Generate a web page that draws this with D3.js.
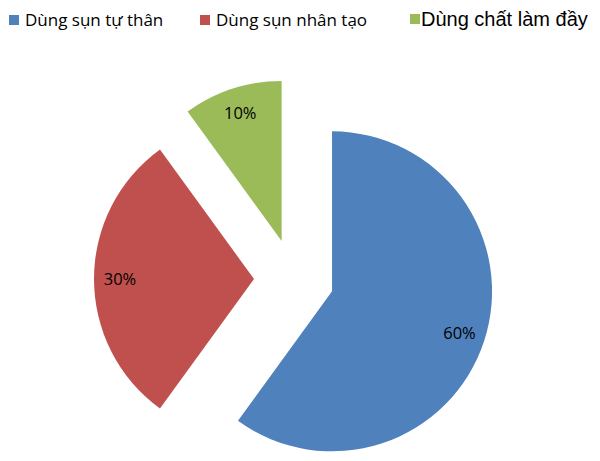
<!DOCTYPE html>
<html>
<head>
<meta charset="utf-8">
<script src="https://cdn.jsdelivr.net/npm/d3@7"></script>
<style>
  body { margin: 0; background: #fff; }
  svg { display: block; }
</style>
</head>
<body>
<div id="chart-area"></div>
<script>
// Exploded pie of filling methods
var labels = ["Dùng sụn tự thân", "Dùng sụn nhân tạo", "Dùng chất làm đầy"];
var values = [60, 30, 10];
var colors = ["#4F81BD", "#C0504D", "#9BBB59"];

var width = 600, height = 461;
var cx = 294, cy = 279;
var radius = 160, explode = 40;

var svg = d3.select("#chart-area")
	.append("svg")
		.attr("width", width)
		.attr("height", height);

var data = labels.map(function(d, i){
	return { name: d, value: values[i], color: colors[i] };
});

var pie = d3.pie()
	.sort(null)
	.value(function(d){ return d.value; });

var arc = d3.arc()
	.innerRadius(0)
	.outerRadius(radius);

var arcs = pie(data);

var g = svg.append("g")
	.attr("transform", "translate(" + cx + "," + cy + ")");

// each slice is pushed out along its middle angle
function shift(d, dist){
	var a = (d.startAngle + d.endAngle) / 2;
	return [Math.sin(a) * dist, -Math.cos(a) * dist];
}

var slices = g.selectAll("g.slice")
	.data(arcs)
	.enter().append("g")
		.attr("class", "slice")
		.attr("transform", function(d){
			var s = shift(d, explode);
			return "translate(" + s[0] + "," + s[1] + ")";
		});

slices.append("path")
	.attr("d", arc)
	.attr("fill", function(d){ return d.data.color; });

slices.append("text")
	.attr("x", function(d){ return shift(d, 134)[0]; })
	.attr("y", function(d){ return shift(d, 134)[1]; })
	.attr("dy", "0.35em")
	.attr("text-anchor", "middle")
	.attr("font-family", "'Open Sans', sans-serif")
	.attr("font-size", "16.5px")
	.attr("fill", "#000")
	.text(function(d){ return d.data.value + "%"; });

// legend
var legendX = [9, 200, 410];
var legend = svg.selectAll("g.legend")
	.data(data)
	.enter().append("g")
		.attr("class", "legend")
		.attr("transform", function(d, i){ return "translate(" + legendX[i] + ",0)"; });

legend.append("rect")
	.attr("x", 0)
	.attr("y", function(d, i){ return i == 2 ? 14 : 15; })
	.attr("width", 10)
	.attr("height", 10)
	.attr("fill", function(d){ return d.color; });

legend.append("text")
	.attr("x", function(d, i){ return i == 2 ? 11 : 16; })
	.attr("y", 26)
	.attr("font-family", function(d, i){ return i == 2 ? "'Liberation Sans', Arial, sans-serif" : "'Open Sans', sans-serif"; })
	.attr("font-size", function(d, i){ return i == 2 ? "20px" : "17px"; })
	.attr("fill", "#000")
	.text(function(d){ return d.name; });
</script>
</body>
</html>
